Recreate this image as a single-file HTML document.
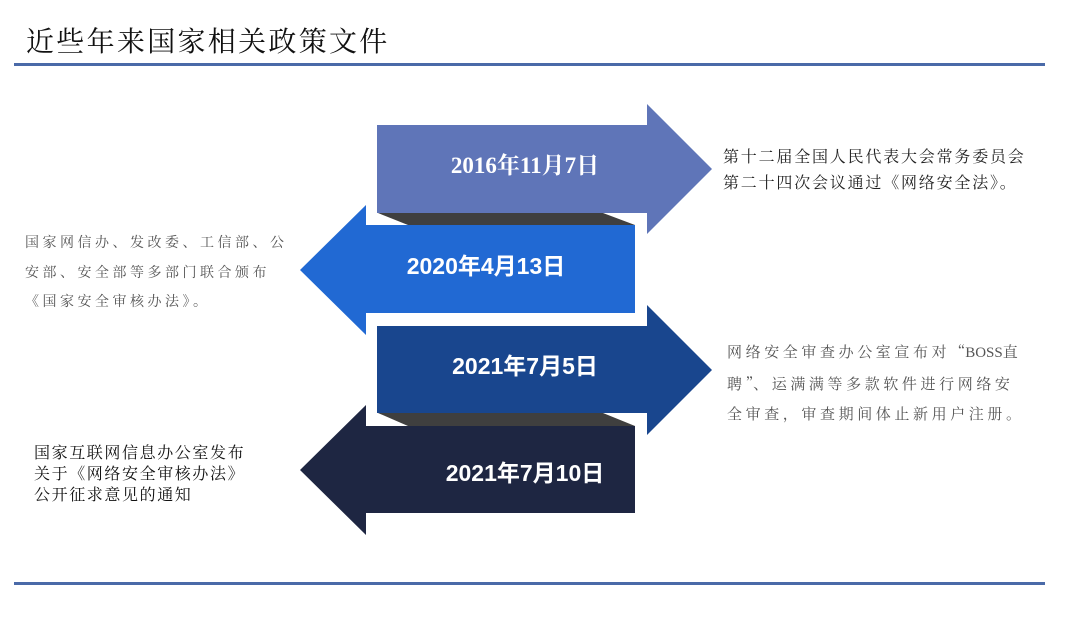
<!DOCTYPE html>
<html><head><meta charset="utf-8"><style>
html,body{margin:0;padding:0;background:#fff;}
body{width:1080px;height:641px;position:relative;overflow:hidden;}
.t{position:absolute;white-space:nowrap;font-family:"Liberation Serif","Noto Serif CJK SC",serif;}
.q{font-family:"Noto Serif CJK SC",serif;letter-spacing:0;}
</style></head><body>
<div class="t" style="left:26px;top:20px;font-size:28px;letter-spacing:2.3px;color:#111;">近些年来国家相关政策文件</div>
<svg width="1080" height="641" style="position:absolute;left:0;top:0">
<rect x="14" y="63" width="1031" height="3" fill="#4a6aa8"/>
<rect x="14" y="582" width="1031" height="3" fill="#4a6aa8"/>
<polygon points="378,213 603,213 635,225 408,225" fill="#3f3f3f"/>
<polygon points="378,413 603,413 635,426 408,426" fill="#3f3f3f"/>
<polygon points="377,125 647,125 647,104 712,169 647,234 647,213 377,213" fill="#5f75b8"/>
<polygon points="635,225 366,225 366,205 300,270 366,335 366,313 635,313" fill="#2169d3"/>
<polygon points="377,326 647,326 647,305 712,370 647,435 647,413 377,413" fill="#19468e"/>
<polygon points="635,426 366,426 366,405 300,470 366,535 366,513 635,513" fill="#1e2642"/>
<g fill="#fff" font-weight="bold" font-size="23" text-anchor="middle">
<text x="525" y="173" font-family="Liberation Serif,Noto Serif CJK SC,serif">2016年11月7日</text>
<text x="486" y="274" font-family="Liberation Sans,Noto Sans CJK SC,sans-serif">2020年4月13日</text>
<text x="525" y="374" font-family="Liberation Sans,Noto Sans CJK SC,sans-serif">2021年7月5日</text>
<text x="525" y="481" font-family="Liberation Sans,Noto Sans CJK SC,sans-serif">2021年7月10日</text>
</g>
</svg>
<div class="t" style="left:723px;top:145px;font-size:16px;line-height:26px;letter-spacing:1.8px;color:#222;">第十二届全国人民代表大会常务委员会<br>第二十四次会议通过《网络安全法》。</div>
<div class="t" style="left:727px;top:341px;font-size:15px;line-height:22px;letter-spacing:3.6px;color:#555;">网络安全审查办公室宣布对<span class="q">“</span><span style="letter-spacing:0">BOSS</span>直</div>
<div class="t" style="left:727px;top:373px;font-size:15px;line-height:22px;letter-spacing:3.6px;color:#555;">聘<span class="q">”</span>、运满满等多款软件进行网络安</div>
<div class="t" style="left:727px;top:404px;font-size:15px;line-height:22px;letter-spacing:3.6px;color:#555;">全审查，审查期间体止新用户注册。</div>
<div class="t" style="left:25px;top:229px;font-size:14px;line-height:29.5px;letter-spacing:3.5px;color:#555;">国家网信办、发改委、工信部、公<br>安部、安全部等多部门联合颁布<br>《国家安全审核办法》。</div>
<div class="t" style="left:34px;top:443px;font-size:16px;line-height:21px;letter-spacing:1.6px;color:#111;">国家互联网信息办公室发布<br>关于《网络安全审核办法》<br>公开征求意见的通知</div>
</body></html>
